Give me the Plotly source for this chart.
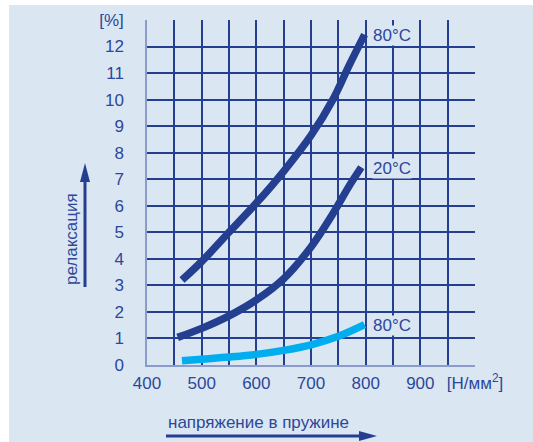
import plotly.graph_objects as go

# ---- data ----
stress_80_dark = [464, 500, 550, 600, 650, 700, 740, 770, 798]
relax_80_dark = [3.2, 3.9, 5.0, 6.1, 7.3, 8.65, 10.0, 11.3, 12.45]

stress_20 = [456, 500, 550, 600, 650, 700, 740, 770, 792]
relax_20 = [1.04, 1.38, 1.85, 2.45, 3.25, 4.45, 5.7, 6.75, 7.45]

stress_80_light = [464, 500, 550, 600, 650, 700, 750, 798]
relax_80_light = [0.16, 0.22, 0.30, 0.40, 0.55, 0.76, 1.08, 1.52]

x_tickvals = [400, 450, 500, 550, 600, 650, 700, 750, 800, 850, 900, 950, 1000]
x_ticktext = ["400", " ", "500", " ", "600", " ", "700", " ", "800", " ", "900", " ", "[Н/мм<sup>2</sup>]"]
y_tickvals = list(range(0, 14))
y_ticktext = [str(v) for v in range(0, 13)] + ["[%]"]

curve_labels = ["80°C", "20°C", "80°C"]
x_title = "напряжение в пружине"
y_title = "релаксация"

# ---- styling ----
NAVY = "#243f8f"
LIGHT = "#00aeef"
TEXT = "#2b4899"
BG = "#dbe6f3"
FONT = "Liberation Sans, Arial, sans-serif"

W, H = 533, 442
L, R, T, B = 147, 58, 20, 77
PW, PH = W - L - R, H - T - B


def px(x):
    return (x - L) / PW


def py(y):
    return (H - B - y) / PH


fig = go.Figure()
for xs, ys, col in [(stress_80_dark, relax_80_dark, NAVY),
                    (stress_20, relax_20, NAVY),
                    (stress_80_light, relax_80_light, LIGHT)]:
    fig.add_trace(go.Scatter(x=xs, y=ys, mode="lines",
                             line=dict(color=col, width=7.5, shape="spline", smoothing=1.0),
                             hoverinfo="skip", showlegend=False))

ends = [relax_80_dark[-1] - 0.05, relax_20[-1] - 0.05, relax_80_light[-1] - 0.05]
for ey, lab in zip(ends, curve_labels):
    fig.add_annotation(x=812, y=ey, text=lab, showarrow=False, xanchor="left",
                       yanchor="middle", bgcolor=BG, borderpad=0,
                       font=dict(family=FONT, size=17, color=TEXT))

# axis titles
fig.add_annotation(xref="paper", yref="paper", x=px(166), y=py(422), text=x_title,
                   showarrow=False, xanchor="left", yanchor="middle",
                   font=dict(family=FONT, size=17, color=TEXT))
fig.add_annotation(xref="paper", yref="paper", x=px(71), y=py(239), text=y_title,
                   showarrow=False, textangle=-90, xanchor="center", yanchor="middle",
                   font=dict(family=FONT, size=17, color=TEXT))

shapes = [
    dict(type="rect", xref="paper", yref="paper", x0=px(9), x1=px(545), y0=py(455), y1=py(5),
         fillcolor=BG, line=dict(width=0), layer="below"),
    # y arrow
    dict(type="line", xref="paper", yref="paper", x0=px(85), x1=px(85), y0=py(287), y1=py(178),
         line=dict(color=NAVY, width=3)),
    dict(type="path", xref="paper", yref="paper",
         path=f"M {px(85)} {py(163)} L {px(80)} {py(182)} L {px(90)} {py(182)} Z",
         fillcolor=NAVY, line=dict(width=0)),
    # x arrow
    dict(type="line", xref="paper", yref="paper", x0=px(166), x1=px(362), y0=py(436), y1=py(436),
         line=dict(color=NAVY, width=3)),
    dict(type="path", xref="paper", yref="paper",
         path=f"M {px(377)} {py(436)} L {px(359)} {py(431)} L {px(359)} {py(441)} Z",
         fillcolor=NAVY, line=dict(width=0)),
]

fig.update_layout(
    width=W, height=H,
    margin=dict(l=L, r=R, t=T, b=B, autoexpand=False),
    paper_bgcolor="white",
    plot_bgcolor="rgba(0,0,0,0)",
    shapes=shapes,
    font=dict(family=FONT, size=17, color=TEXT),
    xaxis=dict(range=[400, 1000], tickmode="array", tickvals=x_tickvals, ticktext=x_ticktext,
               showgrid=True, gridcolor=NAVY, gridwidth=2, zeroline=False,
               showline=True, linecolor="#8b9bcb", linewidth=1.5, ticks="",
               tickangle=0, automargin=False,
               ticklabelstandoff=2, fixedrange=True),
    yaxis=dict(range=[0, 13], tickmode="array", tickvals=y_tickvals, ticktext=y_ticktext,
               showgrid=True, gridcolor=NAVY, gridwidth=2, zeroline=False,
               showline=True, linecolor="#8b9bcb", linewidth=1.5, ticks="",
               tickangle=0, automargin=False,
               ticklabelstandoff=18, fixedrange=True),
)

fig.write_html("out.html", config={"displayModeBar": False},
               post_script="document.body.style.margin='0';document.body.style.overflow='hidden';")
